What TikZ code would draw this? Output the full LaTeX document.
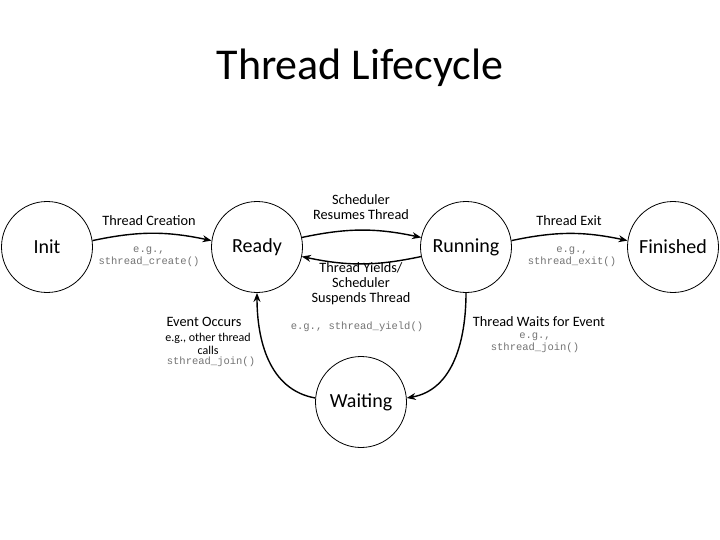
\documentclass[tikz,border=0pt]{standalone}
\usepackage{fontspec}
\setmainfont{Carlito}
\newfontfamily\monof{Liberation Mono}
\usetikzlibrary{arrows.meta}
\begin{document}
\begin{tikzpicture}[x=1pt,y=-1pt,
  st/.style={circle,draw,line width=0.8pt,minimum size=91pt,inner sep=0pt,font=\fontsize{20}{20}\selectfont},
  ar/.style={-{Stealth[length=9pt,width=7pt]},line width=1.4pt},
  lb/.style={font=\fontsize{14.3}{15}\selectfont,align=center},
  mn/.style={font=\monof\fontsize{10.5}{12}\selectfont,text=black!55,align=center}]
\useasboundingbox (0,0) rectangle (720,540);
\node (title) at (360,68) {\fontsize{44}{44}\selectfont Thread Lifecycle};
\node[st] (init) at (47,247) {Init};
\node[st] (ready) at (257,247) {Ready};
\node[st] (run) at (466,247) {Running};
\node[st] (fin) at (673,247) {Finished};
\node[st] (wait) at (361,402) {Waiting};
\draw[ar] (init.8) to[bend left=12] (ready.172);
\draw[ar] (ready.12) to[bend left=12] (run.168);
\draw[ar] (run.192) to[bend left=12] (ready.-12);
\draw[ar] (run.8) to[bend left=12] (fin.172);
\draw[ar] (run.-90) to[out=-90,in=10] (wait.5);
\draw[ar] (wait.175) to[out=170,in=-90] (ready.-90);
\node[lb] (l1) at (149,221) {Thread Creation};
\node[mn] (m1) at (149,257) {e.g.,\\sthread\_create()};
\node[lb] (l2) at (361,207) {Scheduler\\Resumes Thread};
\node[lb] (l3) at (361,284) {Thread Yields/\\Scheduler\\Suspends Thread};
\node[mn] (m3) at (357,327) {e.g., sthread\_yield()};
\node[lb] (l4) at (569,221) {Thread Exit};
\node[mn] (m4) at (572,257) {e.g.,\\sthread\_exit()};
\node[lb] (l5) at (539,322) {Thread Waits for Event};
\node[mn] (m5) at (535,343) {e.g.,\\sthread\_join()};
\node[lb] (l6) at (204,322) {Event Occurs};
\node[font=\fontsize{12}{13}\selectfont,align=center] (l7) at (208,344) {e.g., other thread\\calls};
\node[mn] (m7) at (211,362) {sthread\_join()};
\end{tikzpicture}
\end{document}
